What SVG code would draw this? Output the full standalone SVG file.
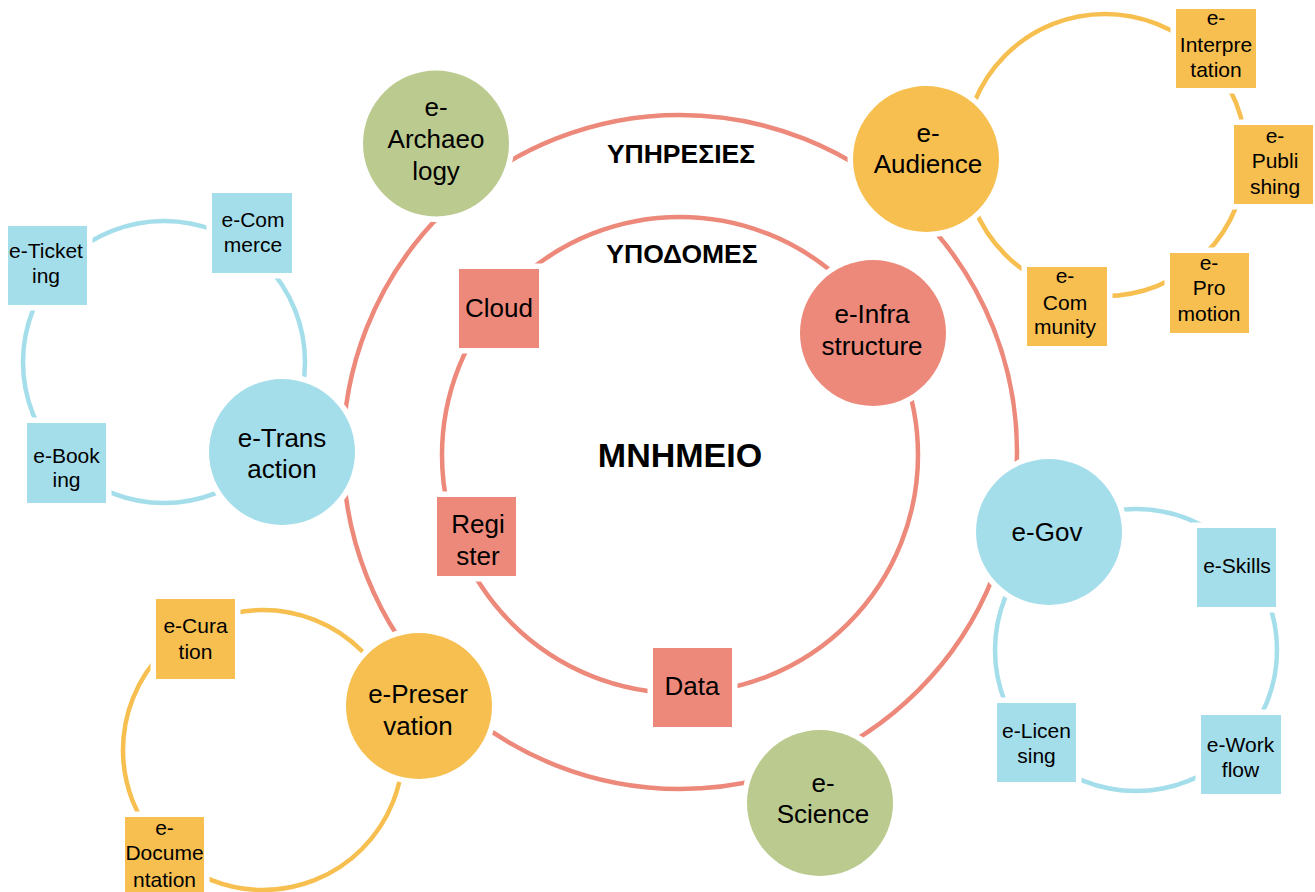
<svg xmlns="http://www.w3.org/2000/svg" width="1315" height="892" viewBox="0 0 1315 892">
<style>
.ring{fill:none;stroke-width:4.5}
.sal{stroke:#ED897A}
.yel{stroke:#F6BF50}
.blu{stroke:#A5DEEB}
.n{stroke:#fff;stroke-width:11;paint-order:stroke}
.fs{fill:#ED897A}.fg{fill:#BBCA8F}.fy{fill:#F6BF50}.fb{fill:#A5DEEB}
text{font-family:"Liberation Sans",Arial,"Noto Sans",sans-serif;text-anchor:middle;fill:#000}
.c{font-size:26px}
.s{font-size:21px}
.h{font-size:26.5px;font-weight:bold}
.m{font-size:34px;font-weight:bold}
</style>
<rect width="1315" height="892" fill="#fff"/>
<g id="connectors">
<circle class="ring sal" cx="680" cy="452" r="337"/>
<circle class="ring sal" cx="680" cy="455" r="238"/>
<circle class="ring blu" cx="164" cy="362" r="141"/>
<circle class="ring yel" cx="1105" cy="155" r="141"/>
<circle class="ring blu" cx="1136" cy="650" r="141"/>
<circle class="ring yel" cx="263" cy="750" r="140"/>
</g>
<g id="labels">
<text class="h" x="681" y="163">ΥΠΗΡΕΣΙΕΣ</text>
<text class="h" x="682" y="263">ΥΠΟΔΟΜΕΣ</text>
<text class="m" x="680" y="467">MNHMEIO</text>
</g>
<g id="e-archaeology"><circle class="n fg" cx="436" cy="143.5" r="73"/><text class="c" x="436" y="116">e-</text><text class="c" x="436" y="148">Archaeo</text><text class="c" x="436" y="180">logy</text></g>
<g id="e-audience"><circle class="n fy" cx="926" cy="159" r="73"/><text class="c" x="928" y="142">e-</text><text class="c" x="928" y="173">Audience</text></g>
<g id="e-infrastructure"><circle class="n fs" cx="873" cy="333" r="73"/><text class="c" x="872" y="323">e-Infra</text><text class="c" x="872" y="355">structure</text></g>
<g id="e-transaction"><circle class="n fb" cx="282" cy="452" r="73"/><text class="c" x="282" y="447">e-Trans</text><text class="c" x="282" y="478">action</text></g>
<g id="e-gov"><circle class="n fb" cx="1049" cy="532" r="73"/><text class="c" x="1047" y="541">e-Gov</text></g>
<g id="e-preservation"><circle class="n fy" cx="419" cy="706" r="73"/><text class="c" x="418" y="703">e-Preser</text><text class="c" x="418" y="735">vation</text></g>
<g id="e-science"><circle class="n fg" cx="820" cy="803" r="73"/><text class="c" x="823" y="792">e-</text><text class="c" x="823" y="823">Science</text></g>
<g id="cloud"><rect class="n fs" x="459" y="269" width="80" height="79"/><text class="c" x="499" y="317">Cloud</text></g>
<g id="register"><rect class="n fs" x="437" y="497" width="79" height="79"/><text class="c" x="478" y="533">Regi</text><text class="c" x="478" y="565">ster</text></g>
<g id="data"><rect class="n fs" x="653" y="648" width="79" height="79"/><text class="c" x="692" y="695">Data</text></g>
<g id="e-ticketing"><rect class="n fb" x="8" y="226" width="79" height="79"/><text class="s" x="46" y="258">e-Ticket</text><text class="s" x="46" y="283">ing</text></g>
<g id="e-commerce"><rect class="n fb" x="212" y="193" width="80" height="80"/><text class="s" x="253" y="227">e-Com</text><text class="s" x="253" y="252">merce</text></g>
<g id="e-booking"><rect class="n fb" x="27" y="423" width="79" height="80"/><text class="s" x="66.5" y="463">e-Book</text><text class="s" x="66.5" y="487">ing</text></g>
<g id="e-interpretation"><rect class="n fy" x="1176" y="9" width="80" height="79"/><text class="s" x="1216" y="25">e-</text><text class="s" x="1216" y="52">Interpre</text><text class="s" x="1216" y="77">tation</text></g>
<g id="e-publishing"><rect class="n fy" x="1234" y="125" width="79" height="79"/><text class="s" x="1275" y="143">e-</text><text class="s" x="1275" y="168">Publi</text><text class="s" x="1275" y="194">shing</text></g>
<g id="e-community"><rect class="n fy" x="1027" y="267" width="80" height="79"/><text class="s" x="1065" y="283">e-</text><text class="s" x="1065" y="310">Com</text><text class="s" x="1065" y="334">munity</text></g>
<g id="e-promotion"><rect class="n fy" x="1170" y="253" width="79" height="80"/><text class="s" x="1209" y="270">e-</text><text class="s" x="1209" y="295">Pro</text><text class="s" x="1209" y="321">motion</text></g>
<g id="e-skills"><rect class="n fb" x="1197" y="528" width="79" height="79"/><text class="s" x="1237" y="573">e-Skills</text></g>
<g id="e-licensing"><rect class="n fb" x="997" y="703" width="79" height="79"/><text class="s" x="1036.5" y="738">e-Licen</text><text class="s" x="1036.5" y="763">sing</text></g>
<g id="e-workflow"><rect class="n fb" x="1201" y="715" width="80" height="79"/><text class="s" x="1240.5" y="752">e-Work</text><text class="s" x="1240.5" y="777">flow</text></g>
<g id="e-curation"><rect class="n fy" x="156" y="599" width="79" height="80"/><text class="s" x="195.5" y="633">e-Cura</text><text class="s" x="195.5" y="659">tion</text></g>
<g id="e-documentation"><rect class="n fy" x="125" y="817" width="79" height="80"/><text class="s" x="164.5" y="835">e-</text><text class="s" x="164.5" y="860">Docume</text><text class="s" x="164.5" y="887">ntation</text></g>
</svg>
